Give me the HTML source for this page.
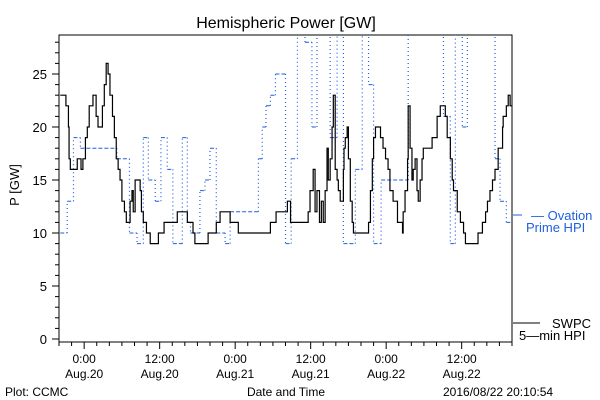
<!DOCTYPE html>
<html><head><meta charset="utf-8"><style>
body{margin:0;background:#fff;}
svg{display:block;font-family:"Liberation Sans",sans-serif;}
</style></head><body>
<svg id="chart" width="600" height="400">
<text x="286" y="28" text-anchor="middle" font-size="16">Hemispheric Power [GW]</text>
<text transform="translate(19,185) rotate(-90)" text-anchor="middle" font-size="13">P [GW]</text>
<text x="5" y="396" font-size="12">Plot: CCMC</text>
<text x="286" y="396" text-anchor="middle" font-size="12">Date and Time</text>
<text x="443" y="396" font-size="12">2016/08/22 20:10:54</text>
<g id="axes"></g>
<g id="series"></g>
<g>
<line x1="513" y1="215" x2="522" y2="215" stroke="#1f5fe0" stroke-width="1"/>
<text x="531" y="220" font-size="13" fill="#1f5fe0">— Ovation</text>
<text x="526" y="232" font-size="13" fill="#1f5fe0">Prime HPI</text>
<line x1="513" y1="323" x2="540" y2="323" stroke="#000" stroke-width="1"/>
<text x="552" y="328" font-size="13">SWPC</text>
<text x="519" y="340" font-size="13">5—min HPI</text>
</g>
</svg>
<script>
const majorTickHours=[0,12,24,36,48,60];
const majorTickTimes=["0:00","12:00","0:00","12:00","0:00","12:00"];
const majorTickDates=["Aug.20","Aug.20","Aug.21","Aug.21","Aug.22","Aug.22"];
const yTickValues=[0,5,10,15,20,25];
const swpcHours=[-3.8,-2.9,-2.5,-2.4,-2.2,-1.9,-1.1,-0.5,-0.2,0.2,0.5,0.8,1.4,1.9,2.2,2.5,2.9,3.2,3.5,3.8,4.1,4.5,4.8,5.1,5.4,5.7,6.0,6.4,6.7,7.3,7.6,7.8,8.1,8.9,9.1,9.4,9.9,10.5,11.8,12.7,14.8,16.4,17.3,17.6,19.7,21.0,21.6,23.2,24.5,29.6,30.5,32.3,32.8,33.9,35.6,35.9,36.4,36.7,37.0,37.4,37.7,38.0,38.3,38.6,38.8,39.1,39.4,39.6,39.9,40.2,40.4,40.7,41.2,41.3,41.5,41.8,42.0,42.3,42.6,42.8,43.1,45.2,45.5,45.8,46.0,46.3,47.1,47.5,47.9,48.3,48.6,49.1,49.8,50.6,50.7,51.0,51.4,51.5,51.8,52.1,52.3,52.6,52.9,53.1,53.4,53.7,53.9,54.5,55.3,56.1,56.6,57.1,57.4,57.7,58.2,58.5,58.7,59.3,59.8,60.3,60.6,62.6,63.0,63.3,63.8,64.1,64.5,64.9,65.3,65.8,66.5,66.6,67.1,67.4,67.7];
const swpcValues=[23,22,20,17,16,16,17,16,17,19,20,22,23,21,20,20,22,24,26,25,23,21,19,17,16,15,13,12,11,13,14,12,15,14,12,11,10,9,10,11,12,11,10,9,10,11,12,11,10,11,12,13,11,11,12,14,16,12,14,11,13,11,14,18,15,17,20,23,16,15,14,13,16,18,19,20,17,13,11,10,10,11,14,17,19,20,19,18,17,16,14,13,11,10,12,14,17,22,18,15,16,17,14,13,15,17,18,18,19,21,22,22,21,19,17,15,14,12,11,10,9,10,10,11,12,13,14,15,16,18,20,21,22,23,22,20,18];
const ovationHours=[-3.8,-2.7,-1.7,-0.6,5.2,7.2,8.4,9.4,10.2,11.3,12.2,13.2,14.1,15.6,16.4,16.9,18.4,19.2,20.0,21.0,22.4,23.2,27.7,28.3,28.9,29.6,30.4,32.0,32.9,33.9,35.1,36.2,37.0,39.1,40.2,41.2,43.1,44.2,45.2,46.0,47.2,51.5,57.1,58.2,59.0,60.1,60.9,65.3,66.1,67.1];
const ovationValues=[10,13,19,18,17,10,9,19,15,13,19,16,9,19,11,10,14,15,18,10,9,12,17,20,22,23,25,9,17,30,28,20,30,19,30,9,16,30,24,9,15,30,21,9,30,20,30,17,13,11];

const X0=59,X1=512,Y0=342,YT=35;
const xs=h=>X0+(h+4)*(X1-X0)/72;
const ys=v=>339-v*10.6;
const NS="http://www.w3.org/2000/svg";
function mk(tag,attrs,parent){const e=document.createElementNS(NS,tag);for(const k in attrs)e.setAttribute(k,attrs[k]);parent.appendChild(e);return e;}
const axes=document.getElementById('axes');
const frame=mk('rect',{x:X0,y:YT,width:X1-X0,height:Y0-YT,fill:'none',stroke:'#000','stroke-width':1},axes);


for(let v=0;v<=28;v++){
  const len=(v%5===0)?7:4;
  const t=mk('line',{x1:X0-len,x2:X0,y1:ys(v),y2:ys(v),stroke:'#000'},axes);
  
  
}
yTickValues.forEach(v=>{
  const t=mk('text',{x:X0-12,y:ys(v)+5,'text-anchor':'end','font-size':13},axes);
  t.textContent=v;
  
  
});
for(let h=-4;h<=68;h+=2){
  const major=(h%12===0);
  const t=mk('line',{x1:xs(h),x2:xs(h),y1:Y0,y2:Y0+(major?7:4),stroke:'#000'},axes);
  
  
}
majorTickHours.forEach((h,i)=>{
  const a=mk('text',{x:xs(h),y:363,'text-anchor':'middle','font-size':12},axes);
  a.textContent=majorTickTimes[i];
  
  
  const b=mk('text',{x:xs(h),y:378,'text-anchor':'middle','font-size':12},axes);
  b.textContent=majorTickDates[i];
  
  
});
const ser=document.getElementById('series');
const defs=mk('defs',{},ser);
const cp=mk('clipPath',{id:'clip'},defs);
mk('rect',{x:X0,y:YT,width:X1-X0,height:Y0-YT},cp);
// ovation: dashed horizontals, dotted verticals
let hd='',vd='';
for(let i=0;i<ovationHours.length;i++){
  const x=xs(ovationHours[i]),y=ys(ovationValues[i]);
  const xn=i+1<ovationHours.length?xs(ovationHours[i+1]):X1;
  hd+=`M${x},${y}H${xn}`;
  if(i+1<ovationHours.length) vd+=`M${xn},${y}V${ys(ovationValues[i+1])}`;
}
const ovh=mk('path',{d:hd,fill:'none',stroke:'#1f5fe0','stroke-width':1,'stroke-dasharray':'4 2','clip-path':'url(#clip)'},ser);


const ovv=mk('path',{d:vd,fill:'none',stroke:'#1f5fe0','stroke-width':1.2,'stroke-dasharray':'1 3','clip-path':'url(#clip)'},ser);


// swpc step line
let d='';
for(let i=0;i<swpcHours.length;i++){
  const x=xs(swpcHours[i]),y=ys(swpcValues[i]);
  d+=(i===0?'M':'L')+x+','+y;
  const xn=i+1<swpcHours.length?xs(swpcHours[i+1]):X1;
  d+='L'+xn+','+y;
}
const sw=mk('path',{d:d,fill:'none',stroke:'#000','stroke-width':1.2,'clip-path':'url(#clip)'},ser);


</script>
</body></html>
